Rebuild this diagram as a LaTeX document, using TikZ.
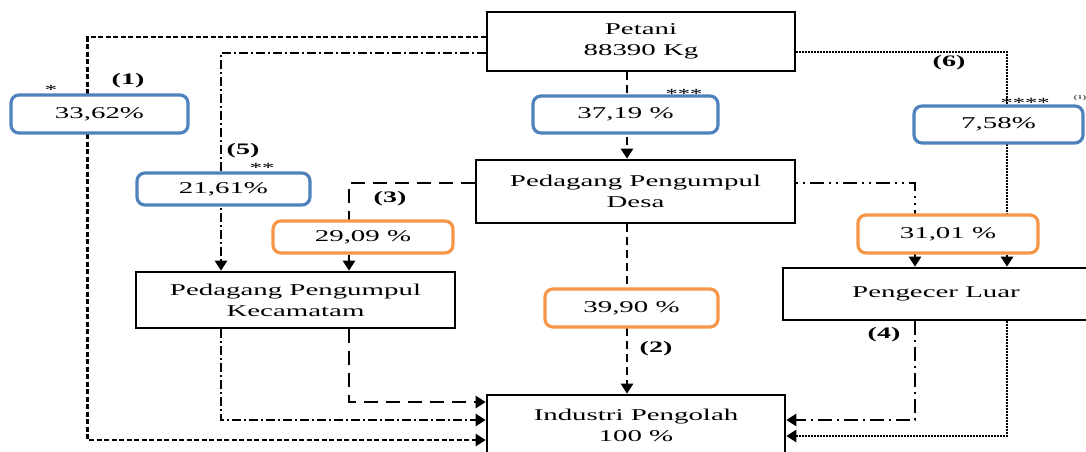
\documentclass[tikz,border=0pt]{standalone}
\usepackage{fontspec}
\setmainfont[FakeStretch=1.75]{Liberation Serif}
\usetikzlibrary{arrows.meta,calc}
\definecolor{pblue}{HTML}{4F81BD}
\definecolor{porange}{HTML}{F79646}
\begin{document}
\begin{tikzpicture}[x=1pt,y=-1pt,
  box/.style={draw,line width=2.6pt,fill=white,align=center,inner sep=0pt,
    font=\fontsize{16.5}{21}\selectfont},
  pbox/.style={draw,line width=3.2pt,rounded corners=8pt,fill=white,inner sep=0pt,
    font=\fontsize{16.5}{19}\selectfont},
  bl/.style={pbox,draw=pblue},
  or/.style={pbox,draw=porange},
  conn/.style={line width=2.5pt,-{Triangle[length=10pt,width=12pt]}},
  lab/.style={font=\fontsize{16}{18}\selectfont\bfseries,inner sep=0pt},
  star/.style={font=\fontsize{14}{14}\selectfont,inner sep=0pt}]
\useasboundingbox (0,0) rectangle (1086,451);
\clip (0,0) rectangle (1086,451);
% main boxes
\node[box,minimum width=308pt,minimum height=59pt] (pet) at (641,41.5) {Petani\\88390 Kg};
\node[box,minimum width=319pt,minimum height=63pt] (des) at (635.5,191.5) {Pedagang Pengumpul\\Desa};
\node[box,minimum width=319pt,minimum height=56pt] (kec) at (295.5,300) {Pedagang Pengumpul\\Kecamatam};
\node[box,minimum width=306pt,minimum height=52pt] (pen) at (936,294) {Pengecer Luar};
\node[box,minimum width=298pt,minimum height=60pt] (ind) at (636,425) {Industri Pengolah\\100 \%};
% connectors
\draw[conn,dash pattern=on 5pt off 2.5pt] ([yshift=4.5pt]pet.west) -- ++(-398,0) |- ([yshift=-15pt]ind.west);
\draw[conn,dash pattern=on 9pt off 3pt on 2pt off 3pt] ([yshift=-11.5pt]pet.west) -| ([xshift=-74.5pt]kec.north);
\draw[conn,dash pattern=on 8pt off 5pt] ([xshift=-14pt]pet.south) -- ([xshift=-8.5pt]des.north);
\draw[conn,dash pattern=on 1.5pt off 1.5pt] ([yshift=-10.5pt]pet.east) -| ([xshift=71pt]pen.north);
\draw[conn,dash pattern=on 14pt off 8pt] ([yshift=8.5pt]des.west) -| ([xshift=53.5pt]kec.north);
\draw[conn,dash pattern=on 2pt off 5pt on 2pt off 5pt on 14pt off 5pt] ([yshift=8.5pt]des.east) -| ([xshift=-21pt]pen.north);
\draw[conn,dash pattern=on 8pt off 5pt] ([xshift=-8.5pt]des.south) -- ([xshift=-9pt]ind.north);
\draw[conn,dash pattern=on 9pt off 3pt on 2pt off 3pt] ([xshift=-74.5pt]kec.south) |- ([yshift=5pt]ind.west);
\draw[conn,dash pattern=on 14pt off 8pt] ([xshift=53.5pt]kec.south) |- ([yshift=23pt]ind.west);
\draw[conn,dash pattern=on 14pt off 5pt on 2pt off 5pt] ([xshift=-21pt]pen.south) |- ([yshift=5pt]ind.east);
\draw[conn,dash pattern=on 1.5pt off 1.5pt] ([xshift=71pt]pen.south) |- ([yshift=-11pt]ind.east);
% percentage boxes
\node[bl,minimum width=177pt,minimum height=38pt] (p1) at (99.5,114) {33,62\%};
\node[bl,minimum width=185pt,minimum height=37pt] (p2) at (625.5,114.5) {37,19 \%};
\node[bl,minimum width=169pt,minimum height=37pt] (p3) at (998.5,124.5) {7,58\%};
\node[bl,minimum width=173pt,minimum height=32pt] (p4) at (223.5,189) {21,61\%};
\node[or,minimum width=180pt,minimum height=32pt] (p5) at (363,237) {29,09 \%};
\node[or,minimum width=173pt,minimum height=38pt] (p6) at (631.5,308) {39,90 \%};
\node[or,minimum width=180pt,minimum height=38pt] (p7) at (948,234) {31,01 \%};
% labels
\node[lab] (l1) at (128,81) {(1)};
\node[lab] (l5) at (243,151) {(5)};
\node[lab] (l3) at (390,199) {(3)};
\node[lab] (l6) at (949,63) {(6)};
\node[lab] (l2) at (656,349) {(2)};
\node[lab] (l4) at (884,335) {(4)};
\node[star] (s1) at (51,90) {*};
\node[star] (s2) at (262,168) {**};
\node[star] (s3) at (684,94) {***};
\node[star] (s4) at (1025,103) {****};
\node[font=\fontsize{6}{7}\selectfont,inner sep=0pt] (s5) at (1080,98) {(1)};
\end{tikzpicture}
\end{document}
